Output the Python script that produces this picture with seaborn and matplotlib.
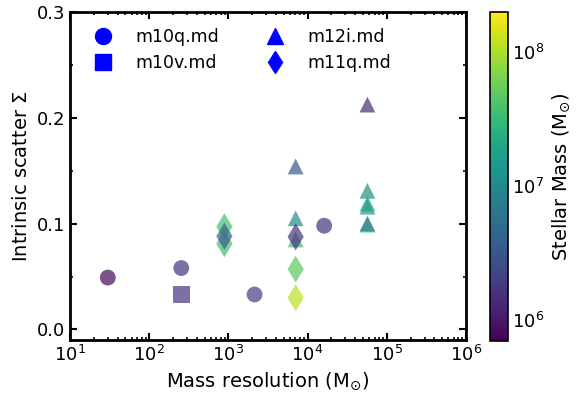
import numpy as np
import pandas as pd
import matplotlib
matplotlib.use('Agg')
import matplotlib.pyplot as plt
import seaborn as sns
from matplotlib.colors import LogNorm
from matplotlib.lines import Line2D
from matplotlib.ticker import LogLocator, NullFormatter, MultipleLocator, FormatStrFormatter

# Simulation names and their markers
sims = ['m10q.md', 'm10v.md', 'm12i.md', 'm11q.md']
sim_markers = {'m10q.md': 'o', 'm10v.md': 's', 'm12i.md': '^', 'm11q.md': 'd'}
sim_sizes = {'m10q.md': 130, 'm10v.md': 145, 'm12i.md': 130, 'm11q.md': 190}

# m10q.md (circles)
m10q_res = [30, 254, 2140, 16200]
m10q_sigma = [0.049, 0.058, 0.033, 0.098]
m10q_mstar = [7.8e5, 1.6e6, 1.9e6, 1.6e6]

# m10v.md (squares)
m10v_res = [254]
m10v_sigma = [0.033]
m10v_mstar = [1.6e6]

# m12i.md (triangles)
m12i_res = [7070, 7070, 7070, 57000, 57000, 57000, 57000, 57000, 57000]
m12i_sigma = [0.154, 0.105, 0.085, 0.2125, 0.131, 0.119, 0.116, 0.099, 0.100]
m12i_mstar = [3.5e6, 1.2e7, 3.6e7, 1.4e6, 1.2e7, 2.1e7, 1.6e7, 4.5e7, 6.7e6]

# m11q.md (diamonds)
m11q_res = [890, 890, 890, 7070, 7070, 7070]
m11q_sigma = [0.097, 0.081, 0.088, 0.0875, 0.057, 0.030]
m11q_mstar = [3.6e7, 3.6e7, 3.8e6, 1.6e6, 4.8e7, 1.15e8]

# Colour scale limits
mstar_min, mstar_max = 7e5, 2e8

frames = []
for name, res, sig, ms in [('m10q.md', m10q_res, m10q_sigma, m10q_mstar),
                           ('m10v.md', m10v_res, m10v_sigma, m10v_mstar),
                           ('m12i.md', m12i_res, m12i_sigma, m12i_mstar),
                           ('m11q.md', m11q_res, m11q_sigma, m11q_mstar)]:
    frames.append(pd.DataFrame({'res': res, 'sigma': sig, 'mstar': ms, 'sim': name}))
df = pd.concat(frames, ignore_index=True)

sns.set_style('ticks')
plt.rcParams.update({
    'font.family': ['DejaVu Sans'],
    'mathtext.fontset': 'dejavusans',
    'text.color': 'black',
    'axes.labelcolor': 'black',
    'axes.edgecolor': 'black',
    'xtick.color': 'black',
    'ytick.color': 'black',
    'axes.linewidth': 2.0,
    'xtick.direction': 'in',
    'ytick.direction': 'in',
    'xtick.top': True,
    'ytick.right': True,
    'xtick.major.size': 5,
    'ytick.major.size': 5,
    'xtick.minor.size': 2.5,
    'ytick.minor.size': 2.5,
    'xtick.major.width': 1.5,
    'ytick.major.width': 1.5,
    'xtick.minor.width': 1.2,
    'ytick.minor.width': 1.2,
    'xtick.labelsize': 13,
    'ytick.labelsize': 13,
})

fig = plt.figure(figsize=(5.8, 4.0), dpi=100)
ax = fig.add_axes([0.1207, 0.15, 0.6827, 0.82])
cax = fig.add_axes([0.845, 0.1475, 0.03, 0.8225])

norm = LogNorm(vmin=mstar_min, vmax=mstar_max)
sns.scatterplot(data=df, x='res', y='sigma', hue='mstar', hue_norm=norm,
                palette='viridis', style='sim', markers=sim_markers,
                size='sim', sizes=sim_sizes, alpha=0.7, linewidth=0,
                legend=False, ax=ax)

ax.set_xscale('log')
ax.set_xlim(10, 1e6)
ax.set_ylim(-0.01, 0.3)
ax.xaxis.set_major_locator(LogLocator(base=10, numticks=10))
ax.xaxis.set_minor_locator(LogLocator(base=10, subs=np.arange(2, 10), numticks=20))
ax.xaxis.set_minor_formatter(NullFormatter())
ax.yaxis.set_major_locator(MultipleLocator(0.1))
ax.yaxis.set_minor_locator(MultipleLocator(0.05))
ax.yaxis.set_major_formatter(FormatStrFormatter('%.1f'))
ax.tick_params(which='both', top=True, right=True)

ax.set_xlabel(r'Mass resolution (M$_{\odot}$)', fontsize=14)
ax.set_ylabel(r'Intrinsic scatter $\Sigma$', fontsize=14)

handles = [Line2D([], [], linestyle='none', marker=sim_markers[s], color='blue',
                  markersize=11.5)
           for s in sims]
ax.legend(handles, sims, ncol=2, frameon=False, fontsize=12.5, loc='upper left',
          handletextpad=0.85, columnspacing=2.25, borderaxespad=0.5)

sm = plt.cm.ScalarMappable(norm=norm, cmap='viridis')
cbar = fig.colorbar(sm, cax=cax)
cbar.set_label(r'Stellar Mass (M$_{\odot}$)', fontsize=14)
cbar.ax.tick_params(which='major', direction='in', length=5, width=1, labelsize=13)
cbar.ax.tick_params(which='minor', length=0)
cbar.outline.set_linewidth(1.2)

fig.savefig('out.png', dpi=100)
